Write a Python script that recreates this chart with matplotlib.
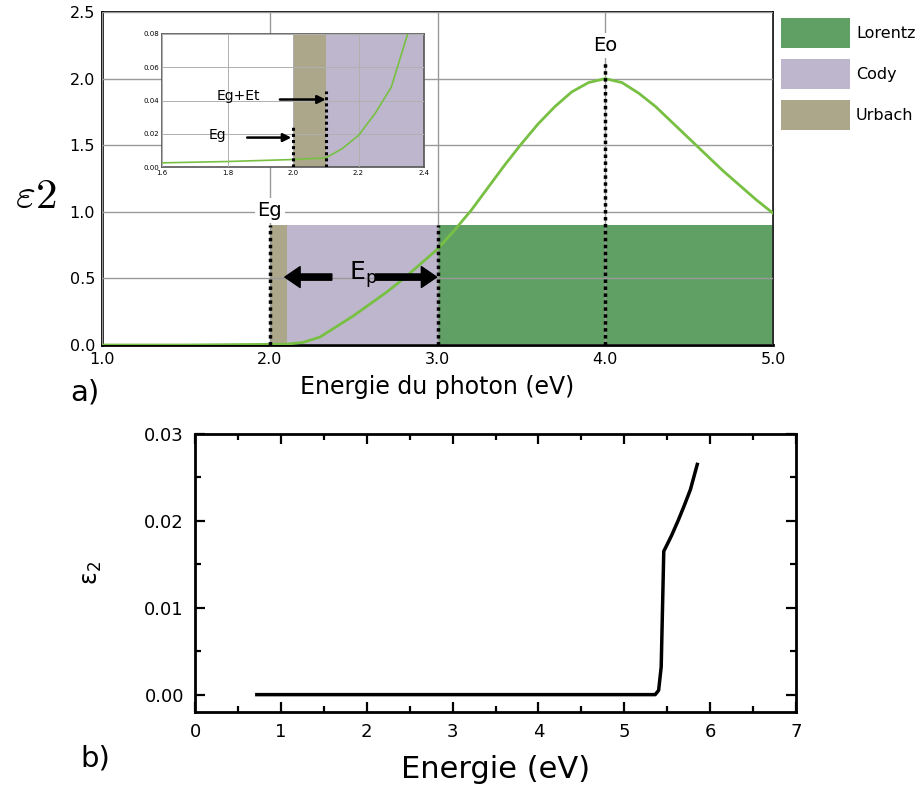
import matplotlib
matplotlib.use("Agg")
import matplotlib.pyplot as plt
from matplotlib.patches import Patch
from matplotlib.ticker import MultipleLocator, FormatStrFormatter

plt.rcParams["font.family"] = ["DejaVu Sans"]
plt.rcParams["mathtext.fontset"] = "dejavusans"

# --- panel a) : model epsilon_2 ---
main_energy = [1.0, 1.5, 2.0, 2.1, 2.2, 2.3, 2.4, 2.5, 2.6, 2.7, 2.8, 2.9, 3.0,
               3.1, 3.2, 3.3, 3.4, 3.5, 3.6, 3.7, 3.8, 3.9, 4.0, 4.1, 4.2, 4.3,
               4.4, 4.5, 4.6, 4.7, 4.8, 4.9, 5.0]
main_eps = [0.0, 0.0, 0.005, 0.006, 0.02, 0.06, 0.14, 0.22, 0.31, 0.40, 0.50,
            0.61, 0.72, 0.86, 1.01, 1.18, 1.35, 1.51, 1.66, 1.79, 1.90, 1.97,
            2.0, 1.97, 1.89, 1.79, 1.67, 1.55, 1.43, 1.31, 1.20, 1.09, 0.99]

region_names = ["Urbach", "Cody", "Lorentz"]
region_edges = [2.0, 2.1, 3.0, 5.0]
region_height = 0.9
region_colors = {"Lorentz": "#60a064", "Cody": "#bdb6cc", "Urbach": "#aca78a"}

eg, eg_et, ep_end, eo = 2.0, 2.1, 3.0, 4.0
eo_top = 2.12

# inset (zoom near the gap)
inset_energy = [1.6, 1.8, 2.0, 2.1, 2.15, 2.2, 2.25, 2.3, 2.35]
inset_eps = [0.0025, 0.0033, 0.0045, 0.0055, 0.011, 0.019, 0.032, 0.048, 0.08]
inset_eg_top, inset_eget_top = 0.024, 0.046

# --- panel b) : measured epsilon_2 ---
b_energy = [0.72, 2.0, 4.0, 5.36, 5.40, 5.43, 5.46, 5.55, 5.63, 5.70, 5.77, 5.85]
b_eps = [0.0, 0.0, 0.0, 0.0, 0.0005, 0.0032, 0.0165, 0.0183, 0.0201, 0.0218,
         0.0236, 0.0265]

W, H = 922, 794
fig = plt.figure(figsize=(W / 100, H / 100), dpi=100)


def frac(l, t, r, b):
    return [l / W, 1 - b / H, (r - l) / W, (b - t) / H]


green = "#78c043"

# ---------- top panel ----------
ax = fig.add_axes(frac(102, 12, 773, 345))
ax.set_xlim(1.0, 5.0)
ax.set_ylim(0.0, 2.5)
for i, name in enumerate(region_names):
    lo, hi = region_edges[i], region_edges[i + 1]
    ax.bar(lo, region_height, width=hi - lo, align="edge",
           color=region_colors[name], edgecolor="none", zorder=1)
ax.set_xticks([1, 2, 3, 4, 5])
ax.set_yticks([0, 0.5, 1.0, 1.5, 2.0, 2.5])
ax.xaxis.set_major_formatter(FormatStrFormatter("%.1f"))
ax.yaxis.set_major_formatter(FormatStrFormatter("%.1f"))
ax.tick_params(length=0, labelsize=11.5, pad=5)
ax.grid(True, color="#9a9a9a", lw=1.0, zorder=2)
ax.set_axisbelow(False)
for s in ["left", "bottom"]:
    ax.spines[s].set_linewidth(2.0)
for s in ["top", "right"]:
    ax.spines[s].set_linewidth(1.2)
ax.plot(main_energy, main_eps, color=green, lw=2.0, zorder=4)

dot = dict(color="black", lw=2.5, ls=(0, (1, 1)), zorder=5)
ax.plot([eg, eg], [0, region_height], **dot)
ax.plot([ep_end, ep_end], [0, region_height], **dot)
ax.plot([eo, eo], [0, eo_top], **dot)

box = dict(facecolor="white", edgecolor="none", pad=2)
ax.text(eg, 1.01, "Eg", ha="center", va="center", fontsize=14, bbox=box, zorder=6)
ax.text(eo, 2.25, "Eo", ha="center", va="center", fontsize=14, bbox=box, zorder=6)
ax.text(2.555, 0.53, r"E$_\mathregular{p}$", ha="center", va="center",
        fontsize=18, zorder=6)
arr = dict(facecolor="black", edgecolor="black", width=4.5, headwidth=15,
           headlength=11, shrink=0)
ax.annotate("", xy=(2.09, 0.51), xytext=(2.37, 0.51), arrowprops=arr, zorder=6)
ax.annotate("", xy=(2.995, 0.51), xytext=(2.63, 0.51), arrowprops=arr, zorder=6)
ax.set_xlabel("Energie du photon (eV)", fontsize=17, labelpad=6)

fig.text(36 / W, 1 - 196 / H, r"$\varepsilon 2$", math_fontfamily="cm",
         fontsize=31, ha="center", va="center")
fig.text(70 / W, 1 - 392 / H, "a)", fontsize=21, ha="left", va="center")

# inset
ins = fig.add_axes(frac(162, 34, 424, 167))
ins.set_xlim(1.6, 2.4)
ins.set_ylim(0.0, 0.08)
for i, name in enumerate(region_names[:2]):
    lo = region_edges[i]
    hi = region_edges[i + 1] if i == 0 else 2.4
    ins.bar(lo, 0.08, width=hi - lo, align="edge",
            color=region_colors[name], edgecolor="none", zorder=1)
ins.set_xticks([1.6, 1.8, 2.0, 2.2, 2.4])
ins.set_yticks([0.0, 0.02, 0.04, 0.06, 0.08])
ins.xaxis.set_major_formatter(FormatStrFormatter("%.1f"))
ins.yaxis.set_major_formatter(FormatStrFormatter("%.2f"))
ins.tick_params(length=0, labelsize=5, pad=2)
ins.grid(True, color="#b0b0b0", lw=0.7, zorder=2)
ins.set_axisbelow(False)
for s in ins.spines.values():
    s.set_color("#555555")
    s.set_linewidth(1.2)
ins.plot(inset_energy, inset_eps, color=green, lw=1.2, zorder=4)
idot = dict(color="black", lw=2.2, ls=(0, (1, 1)), zorder=5)
ins.plot([eg, eg], [0, inset_eg_top], **idot)
ins.plot([eg_et, eg_et], [0, inset_eget_top], **idot)
iarr = dict(arrowstyle="-|>", color="black", lw=1.8, mutation_scale=12,
            shrinkA=0, shrinkB=0)
ins.text(1.77, 0.0195, "Eg", ha="center", va="center", fontsize=10)
ins.annotate("", xy=(1.995, 0.0177), xytext=(1.86, 0.0177), arrowprops=iarr)
ins.text(1.832, 0.0425, "Eg+Et", ha="center", va="center", fontsize=10)
ins.annotate("", xy=(2.1, 0.0406), xytext=(1.96, 0.0406), arrowprops=iarr)

handles = [Patch(facecolor=region_colors[n], edgecolor="none") for n in
           ["Lorentz", "Cody", "Urbach"]]
fig.legend(handles, ["Lorentz", "Cody", "Urbach"], loc="upper left",
           bbox_to_anchor=(781 / W, 1 - 18 / H), frameon=False, fontsize=11.5,
           handlelength=4.3, handleheight=2.5, labelspacing=0.7,
           handletextpad=0.4, borderpad=0, borderaxespad=0)

# ---------- bottom panel ----------
bx = fig.add_axes(frac(195, 434, 796, 712))
bx.plot(b_energy, b_eps, color="black", lw=2.5)
bx.set_xlim(0, 7)
bx.set_ylim(-0.002, 0.03)
bx.xaxis.set_major_locator(MultipleLocator(1))
bx.xaxis.set_minor_locator(MultipleLocator(0.5))
bx.set_yticks([0.0, 0.01, 0.02, 0.03])
bx.yaxis.set_minor_locator(MultipleLocator(0.005))
bx.yaxis.set_major_formatter(FormatStrFormatter("%.2f"))
bx.tick_params(which="both", direction="in", top=True, right=True,
               width=1.6, labelsize=13)
bx.tick_params(which="major", length=7, pad=8)
bx.tick_params(which="minor", length=4)
for s in bx.spines.values():
    s.set_linewidth(2.0)
bx.set_xlabel("Energie (eV)", fontsize=22, labelpad=10)
bx.set_ylabel("ε$_\\mathregular{2}$", fontsize=17)
bx.yaxis.set_label_coords(-0.152, 0.5)
fig.text(80 / W, 1 - 759 / H, "b)", fontsize=21, ha="left", va="center")

fig.savefig("out.png", dpi=100)
